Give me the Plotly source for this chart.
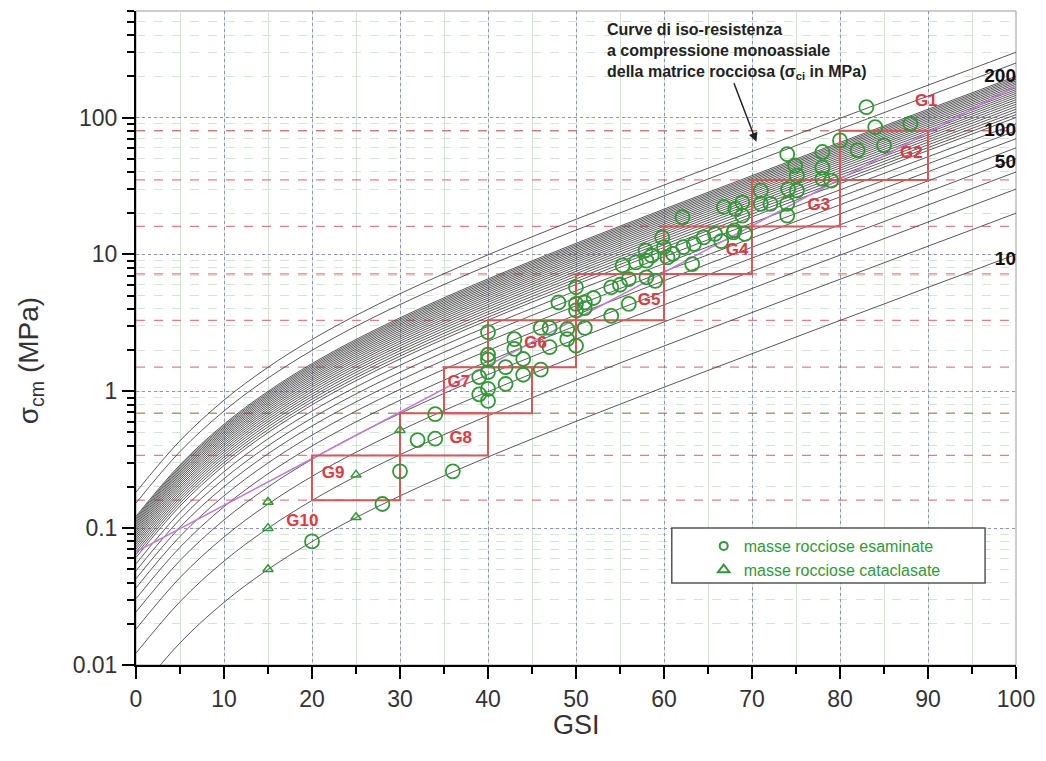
import plotly.graph_objects as go
import numpy as np

# ---------------- data ----------------
# reference iso-resistance curve (sigma_ci = 10 MPa)
ref_gsi = [0, 5, 10, 15, 20, 25, 30, 35, 40, 45, 50, 55, 60, 65, 70, 75, 80, 85, 90, 95, 100]
ref_sigma_ci10 = [0.0061, 0.0145, 0.0287, 0.0499, 0.0796, 0.1195, 0.172, 0.241, 0.331, 0.448,
                  0.602, 0.804, 1.07, 1.42, 1.88, 2.49, 3.29, 4.34, 5.74, 7.57, 10.0]
sigma_ci_values = [10, 20, 30, 40, 50, 60, 70, 80, 90,
                   100, 105, 110, 115, 120, 125, 130, 135, 140, 145, 150,
                   155, 160, 165, 170, 175, 180, 185, 190, 195, 200, 250, 300]

curve_labels = ["200", "100", "50", "10"]
curve_label_sigma = [196, 80, 46, 9.0]

class_bounds = [0.16, 0.34, 0.69, 1.5, 3.3, 7.2, 16, 35, 80]

box_names = ["G2", "G3", "G4", "G5", "G6", "G7", "G8", "G9"]
box_x0 = [80, 70, 60, 50, 40, 35, 30, 20]
box_x1 = [90, 80, 70, 60, 50, 45, 40, 30]
box_y0 = [35, 16, 7.2, 3.3, 1.5, 0.69, 0.34, 0.16]
box_y1 = [80, 35, 16, 7.2, 3.3, 1.5, 0.69, 0.34]

g_labels = ["G1", "G2", "G3", "G4", "G5", "G6", "G7", "G8", "G9", "G10"]
g_label_gsi = [89.8, 88.1, 77.6, 68.3, 58.3, 45.4, 36.7, 36.9, 22.4, 18.9]
g_label_sigma = [130, 54.3, 22.7, 10.7, 4.6, 2.22, 1.16, 0.448, 0.248, 0.111]

trend_gsi = [0, 100]
trend_sigma = [0.067, 170]

circ_gsi = [20, 28, 30, 36, 32, 34, 34,
            39, 40, 40, 39, 40, 40, 40, 40, 42, 42, 43, 43, 44, 44, 46, 46, 47, 47, 49, 49, 50, 51,
            48, 50, 50, 50, 51, 51, 52, 54, 55, 56, 56, 54,
            55.3, 56.8, 57.9, 58.6, 58, 59, 58, 59.8, 60, 61, 60.4, 62.1, 62.2, 63.2, 63.4, 64.5,
            65.8, 66.8, 67.9, 68.1, 68.9, 68.9, 69.2, 68, 66.5,
            71, 71, 72.1, 74, 74.9, 74.1, 75.1, 74, 74, 75.1,
            78, 78, 78, 79, 80, 82, 83, 84, 85, 88]
circ_sigma = [0.08, 0.15, 0.26, 0.26, 0.44, 0.45, 0.68,
              0.95, 0.85, 1.04, 1.27, 1.38, 1.70, 1.85, 2.70, 1.13, 1.50, 2.04, 2.40, 1.32, 1.72,
              1.44, 2.90, 2.90, 2.10, 2.85, 2.40, 2.15, 2.90,
              4.45, 5.75, 4.35, 3.90, 4.45, 4.05, 4.80, 5.75, 6.00, 6.60, 4.35, 3.55,
              8.3, 8.75, 10.7, 9.8, 6.8, 6.4, 9.0, 13.3, 11.3, 10.1, 9.5, 18.7, 11.3, 8.5, 11.9, 13.3,
              14.1, 22.2, 14.5, 21.5, 24, 19.2, 14.1, 15, 12.5,
              29.2, 23.4, 23.4, 54, 44.6, 30, 29.2, 23.4, 19.2, 37.6,
              56, 43, 35.6, 34.6, 68, 57.6, 119, 85, 62.6, 90]

tri_gsi = [15, 15, 15, 25, 25, 30]
tri_sigma = [0.05, 0.10, 0.155, 0.12, 0.245, 0.52]

xtick_vals = [0, 10, 20, 30, 40, 50, 60, 70, 80, 90, 100]
ytick_vals = [0.01, 0.1, 1, 10, 100]
ytick_text = ["0.01", "0.1", "1", "10", "100"]

legend_names = ["masse rocciose esaminate", "masse rocciose cataclasate"]

# ---------------- styles ----------------
FONT = "Liberation Sans, Arial, sans-serif"
GREEN = "#2f9a35"
RED = "#e0393e"
BOXRED = "#dd5555"

fig = go.Figure()

# class boundary dashed lines
for b in class_bounds:
    fig.add_trace(go.Scatter(x=[0, 100], y=[b, b], mode="lines",
                             line=dict(color="rgba(220,70,80,0.7)", width=1.3, dash="dash"),
                             showlegend=False, hoverinfo="skip"))

# iso-resistance curves
ref = np.array(ref_sigma_ci10)
for ci in sigma_ci_values:
    fig.add_trace(go.Scatter(x=ref_gsi, y=ref * ci / 10.0, mode="lines",
                             line=dict(color="#454545", width=0.9, shape="spline"),
                             showlegend=False, hoverinfo="skip"))

# trend line (magenta)
fig.add_trace(go.Scatter(x=trend_gsi, y=trend_sigma, mode="lines",
                         line=dict(color="#c27ad8", width=1.5),
                         showlegend=False, hoverinfo="skip"))

# class boxes
for i in range(len(box_names)):
    fig.add_trace(go.Scatter(
        x=[box_x0[i], box_x1[i], box_x1[i], box_x0[i], box_x0[i]],
        y=[box_y0[i], box_y0[i], box_y1[i], box_y1[i], box_y0[i]],
        mode="lines", line=dict(color=BOXRED, width=2),
        showlegend=False, hoverinfo="skip"))

# data points
fig.add_trace(go.Scatter(x=circ_gsi, y=circ_sigma, mode="markers",
                         marker=dict(symbol="circle-open", size=14, color=GREEN,
                                     line=dict(width=1.8, color=GREEN)),
                         showlegend=False))
fig.add_trace(go.Scatter(x=tri_gsi, y=tri_sigma, mode="markers",
                         marker=dict(symbol="triangle-up-open", size=9, color=GREEN,
                                     line=dict(width=1.5, color=GREEN)),
                         showlegend=False))

# legend-only entries (small symbols as in the reference legend)
fig.add_trace(go.Scatter(x=[None], y=[None], mode="markers", name=legend_names[0],
                         marker=dict(symbol="circle-open", size=8, color=GREEN,
                                     line=dict(width=2, color=GREEN))))
fig.add_trace(go.Scatter(x=[None], y=[None], mode="markers", name=legend_names[1],
                         marker=dict(symbol="triangle-up-open", size=10, color=GREEN,
                                     line=dict(width=2, color=GREEN))))

# G labels
fig.add_trace(go.Scatter(x=g_label_gsi, y=g_label_sigma, mode="text", text=g_labels,
                         textfont=dict(family=FONT, size=17, color=RED, weight="bold"),
                         textposition="middle center", showlegend=False, hoverinfo="skip",
                         cliponaxis=False))

# curve labels at right edge
fig.add_trace(go.Scatter(x=[100] * len(curve_labels), y=curve_label_sigma, mode="text",
                         text=curve_labels,
                         textfont=dict(family=FONT, size=19, color="#111", weight="bold"),
                         textposition="middle left", showlegend=False, hoverinfo="skip",
                         cliponaxis=False))

L, R, T, B = 136, 28, 11, 96
W, H = 1046, 761
pw, ph = W - L - R, H - T - B


def px(xp):
    return (xp - L) / pw


def py(yp):
    return (H - B - yp) / ph


fig.update_layout(
    width=W, height=H,
    margin=dict(l=L, r=R, t=T, b=B),
    paper_bgcolor="white", plot_bgcolor="white",
    font=dict(family=FONT, color="#333"),
    showlegend=True,
    legend=dict(x=px(705), y=py(529), xanchor="left", yanchor="top",
                bgcolor="rgba(0,0,0,0)", borderwidth=0,
                font=dict(family=FONT, size=16, color=GREEN),
                itemsizing="trace", tracegroupgap=0),
    xaxis=dict(range=[0, 100], tickvals=xtick_vals, showline=True, linecolor="black",
               linewidth=2, ticks="outside", ticklen=12, tickwidth=2, tickcolor="black",
               tickfont=dict(size=23, color="#333"),
               showgrid=True, gridcolor="#8e8ed0", griddash="dot", gridwidth=1,
               zeroline=False,
               minor=dict(dtick=5, ticks="outside", ticklen=7, tickwidth=2, tickcolor="black",
                          showgrid=True, gridcolor="#cfe9cf", griddash="solid", gridwidth=1)),
    yaxis=dict(type="log", range=[-2, np.log10(600)], tickvals=ytick_vals, ticktext=ytick_text,
               showline=True, linecolor="black", linewidth=2, ticks="outside", ticklen=12,
               tickwidth=2, tickcolor="black", tickfont=dict(size=23, color="#333"),
               showgrid=True, gridcolor="#8e8ed0", griddash="dot", gridwidth=1, zeroline=False,
               minor=dict(dtick="D1", ticks="outside", ticklen=7, tickwidth=2, tickcolor="black",
                          showgrid=True, gridcolor="#cfe9cf", griddash="dash", gridwidth=1)),
    shapes=[
        dict(type="rect", xref="paper", yref="paper", x0=0, x1=1, y0=0, y1=1,
             line=dict(color="#9a9a9a", width=1), layer="below"),
        dict(type="rect", xref="paper", yref="paper", x0=px(673), x1=px(987),
             y0=py(583), y1=py(528), fillcolor="white",
             line=dict(color="#555", width=1.5), layer="above"),
    ],
    annotations=[
        dict(xref="paper", yref="paper", x=px(606), y=py(19), xanchor="left", yanchor="top",
             align="left", showarrow=False,
             text="<b>Curve di iso-resistenza<br>a compressione monoassiale<br>"
                  "della matrice rocciosa (σ<sub>ci</sub> in MPa)</b>",
             font=dict(family=FONT, size=16, color="#222")),
        dict(xref="x", yref="y", x=70.5, y=np.log10(66.4), ax=-23, ay=-60, text="",
             showarrow=True, arrowhead=2, arrowsize=1.2, arrowwidth=1.5, arrowcolor="#222"),
        dict(xref="paper", yref="paper", x=0.5, y=py(725), xanchor="center", yanchor="middle",
             showarrow=False, text="GSI", font=dict(family=FONT, size=27, color="#333")),
        dict(xref="paper", yref="paper", x=px(30), y=py(361), xanchor="center",
             yanchor="middle", showarrow=False, textangle=-90,
             text="σ<sub>cm</sub> (MPa)", font=dict(family=FONT, size=28, color="#333")),
    ],
)

fig.write_html("out.html")
